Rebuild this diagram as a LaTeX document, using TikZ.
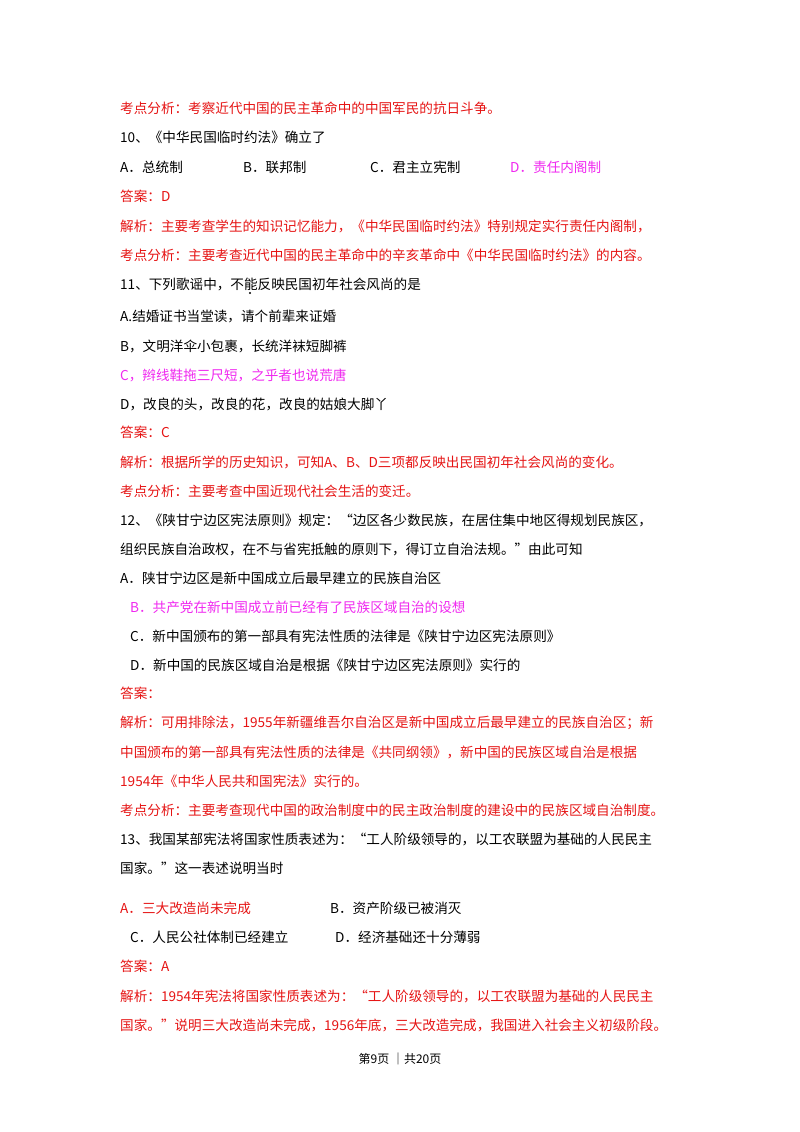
\documentclass[tikz,border=0pt]{standalone}
\usepackage{fontspec}
\setmainfont{Noto Sans CJK SC}
\definecolor{ans}{RGB}{230,20,20}
\definecolor{opt}{RGB}{240,40,240}
\begin{document}
\begin{tikzpicture}[x=1pt,y=1pt,
  t/.style={anchor=west,inner sep=0pt,font=\fontsize{13.6}{15}\selectfont,text=black},
  r/.style={t,text=ans},
  m/.style={t,text=opt}]
\useasboundingbox[fill=white] (0,0) rectangle (800,-1132);
\node[r] (a1) at (120,-108) {考点分析：考察近代中国的民主革命中的中国军民的抗日斗争。};
\node[t] (q10) at (120,-137) {10、《中华民国临时约法》确立了};
\node[t] (q10a) at (120,-167) {A．总统制};
\node[t] (q10b) at (243,-167) {B．联邦制};
\node[t] (q10c) at (370,-167) {C．君主立宪制};
\node[m] (q10d) at (510,-167) {D．责任内阁制};
\node[r] (a2) at (120,-196) {答案：D};
\node[r] (a3) at (120,-226) {解析：主要考查学生的知识记忆能力，《中华民国临时约法》特别规定实行责任内阁制，};
\node[r] (a4) at (120,-255) {考点分析：主要考查近代中国的民主革命中的辛亥革命中《中华民国临时约法》的内容。};
\node[t] (q11) at (120,-284) {11、下列歌谣中，不能反映民国初年社会风尚的是};
\fill (250,-293) circle (1.1);
\node[t] (q11a) at (120,-316) {A.结婚证书当堂读，请个前辈来证婚};
\node[t] (q11b) at (120,-346) {B，文明洋伞小包裹，长统洋袜短脚裤};
\node[m] (q11c) at (120,-375) {C，辫线鞋拖三尺短，之乎者也说荒唐};
\node[t] (q11d) at (120,-404) {D，改良的头，改良的花，改良的姑娘大脚丫};
\node[r] (a5) at (120,-432) {答案：C};
\node[r] (a6) at (120,-462) {解析：根据所学的历史知识，可知A、B、D三项都反映出民国初年社会风尚的变化。};
\node[r] (a7) at (120,-491) {考点分析：主要考查中国近现代社会生活的变迁。};
\node[t] (q12) at (120,-520) {12、《陕甘宁边区宪法原则》规定：“边区各少数民族，在居住集中地区得规划民族区，};
\node[t] (q12x) at (120,-549) {组织民族自治政权，在不与省宪抵触的原则下，得订立自治法规。”由此可知};
\node[t] (q12a) at (120,-578) {A．陕甘宁边区是新中国成立后最早建立的民族自治区};
\node[m] (q12b) at (130,-607) {B．共产党在新中国成立前已经有了民族区域自治的设想};
\node[t] (q12c) at (130,-636) {C．新中国颁布的第一部具有宪法性质的法律是《陕甘宁边区宪法原则》};
\node[t] (q12d) at (130,-665) {D．新中国的民族区域自治是根据《陕甘宁边区宪法原则》实行的};
\node[r] (a8) at (120,-693) {答案：};
\node[r] (a9) at (120,-723) {解析：可用排除法，1955年新疆维吾尔自治区是新中国成立后最早建立的民族自治区；新};
\node[r] (a10) at (120,-752) {中国颁布的第一部具有宪法性质的法律是《共同纲领》，新中国的民族区域自治是根据};
\node[r] (a11) at (120,-781) {1954年《中华人民共和国宪法》实行的。};
\node[r] (a12) at (120,-810) {考点分析：主要考查现代中国的政治制度中的民主政治制度的建设中的民族区域自治制度。};
\node[t] (q13) at (120,-839) {13、我国某部宪法将国家性质表述为：“工人阶级领导的，以工农联盟为基础的人民民主};
\node[t] (q13x) at (120,-868) {国家。”这一表述说明当时};
\node[r] (q13a) at (120,-908) {A．三大改造尚未完成};
\node[t] (q13b) at (330,-908) {B．资产阶级已被消灭};
\node[t] (q13c) at (130,-937) {C．人民公社体制已经建立};
\node[t] (q13d) at (335,-937) {D．经济基础还十分薄弱};
\node[r] (a13) at (120,-966) {答案：A};
\node[r] (a14) at (120,-996) {解析：1954年宪法将国家性质表述为：“工人阶级领导的，以工农联盟为基础的人民民主};
\node[r] (a15) at (120,-1025) {国家。”说明三大改造尚未完成，1956年底，三大改造完成，我国进入社会主义初级阶段。};
\node[t,anchor=center,font=\fontsize{12}{14}\selectfont] (pg) at (400,-1059) {第9页 ｜共20页};
\end{tikzpicture}
\end{document}
